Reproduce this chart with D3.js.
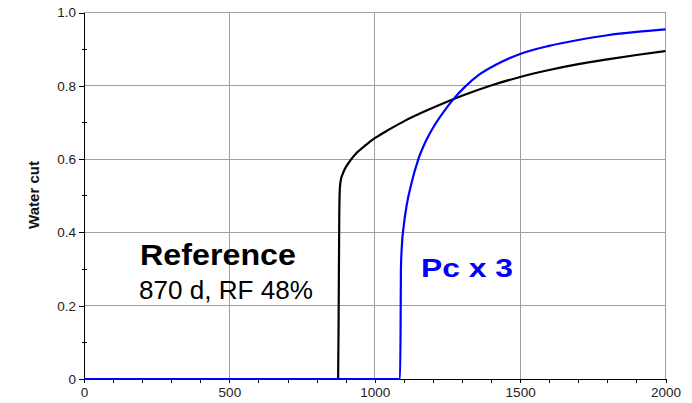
<!DOCTYPE html>
<html>
<head>
<meta charset="utf-8">
<script src="https://cdn.jsdelivr.net/npm/d3@7"></script>
<style>
  html, body { margin: 0; padding: 0; background: #fff; }
  svg { display: block; font-family: "Liberation Sans", Arial, sans-serif; }
</style>
</head>
<body>
<svg id="chart" width="692" height="403"></svg>
<script>
// Water cut vs time (days) for the base case and the capillary-pressure x3 case
const referenceDays = [0, 874, 876, 878, 880, 884, 890, 897, 915, 938, 970, 1000, 1050, 1100, 1200, 1300, 1400, 1500, 1600, 1700, 1800, 1900, 2000];
const referenceWaterCut = [0, 0, 0.20, 0.45, 0.52, 0.546, 0.560, 0.573, 0.595, 0.617, 0.639, 0.657, 0.681, 0.703, 0.740, 0.773, 0.801, 0.824, 0.843, 0.859, 0.872, 0.884, 0.895];

const pcDays = [0, 1087, 1089, 1090, 1093, 1100, 1110, 1125, 1150, 1175, 1200, 1235, 1270, 1310, 1360, 1420, 1500, 1600, 1700, 1800, 1900, 2000];
const pcWaterCut = [0, 0, 0.15, 0.30, 0.36, 0.42, 0.475, 0.530, 0.600, 0.648, 0.685, 0.727, 0.763, 0.797, 0.831, 0.859, 0.887, 0.909, 0.925, 0.938, 0.947, 0.954];

const xMajorTicks = [0, 500, 1000, 1500, 2000];
const xTickLabels = ["0", "500", "1000", "1500", "2000"];
const yMajorTicks = [0, 0.2, 0.4, 0.6, 0.8, 1.0];
const yTickLabels = ["0", "0.2", "0.4", "0.6", "0.8", "1.0"];
const yAxisTitle = "Water cut";
const annotations = {
  refTitle: "Reference",
  refNote: "870 d, RF 48%",
  pcTitle: "Pc x 3"
};

const svg = d3.select("#chart");
const x = d3.scaleLinear().domain([0, 2000]).range([84, 665.5]);
const y = d3.scaleLinear().domain([0, 1]).range([379, 12.5]);

// grid
const grid = svg.append("g").attr("stroke", "#a0a0a0").attr("stroke-width", 1).attr("shape-rendering", "crispEdges");
xMajorTicks.filter(d => d > 0).forEach(d => {
  grid.append("line").attr("x1", x(d)).attr("x2", x(d)).attr("y1", y(0)).attr("y2", y(1));
});
yMajorTicks.filter(d => d > 0).forEach(d => {
  grid.append("line").attr("x1", x(0)).attr("x2", x(2000)).attr("y1", y(d)).attr("y2", y(d));
});

// x axis: minor ticks every 100 d, labels on the majors
const xAxis = d3.axisBottom(x)
  .tickValues(d3.range(0, 2001, 100))
  .tickSize(4)
  .tickFormat(d => {
    const i = xMajorTicks.indexOf(d);
    return i >= 0 ? xTickLabels[i] : "";
  });
const gx = svg.append("g").attr("transform", `translate(0,${y(0)})`).call(xAxis);
gx.select(".domain").attr("stroke", "#000").attr("shape-rendering", "crispEdges");
gx.selectAll(".tick line").attr("stroke", "#000").attr("shape-rendering", "crispEdges");
gx.selectAll(".tick text").attr("font-size", 13.5).attr("fill", "#222").attr("y", 8).attr("font-family", "Liberation Sans, Arial, sans-serif");

// y axis: majors with labels, minors crossing the axis
const yAxis = d3.axisLeft(y)
  .tickValues(yMajorTicks)
  .tickSize(5)
  .tickSizeOuter(0)
  .tickFormat((d, i) => yTickLabels[i]);
const gy = svg.append("g").attr("transform", `translate(${x(0)},0)`).call(yAxis);
gy.select(".domain").attr("stroke", "#000").attr("shape-rendering", "crispEdges");
gy.selectAll(".tick line").attr("stroke", "#000").attr("shape-rendering", "crispEdges");
gy.selectAll(".tick text").attr("font-size", 13.5).attr("fill", "#222").attr("x", -8).attr("font-family", "Liberation Sans, Arial, sans-serif");

const minor = svg.append("g").attr("stroke", "#000").attr("shape-rendering", "crispEdges");
[0.1, 0.3, 0.5, 0.7, 0.9].forEach(d => {
  minor.append("line").attr("x1", x(0) - 2).attr("x2", x(0) + 3).attr("y1", y(d)).attr("y2", y(d));
});

svg.append("text")
  .attr("transform", `translate(38.5,195) rotate(-90)`)
  .attr("text-anchor", "middle")
  .attr("font-size", 15)
  .attr("font-weight", "bold")
  .attr("fill", "#111")
  .text(yAxisTitle);

// series
const line = d3.line().x(d => x(d[0])).y(d => y(d[1])).curve(d3.curveMonotoneX);
const refData = d3.zip(referenceDays, referenceWaterCut);
const pcData = d3.zip(pcDays, pcWaterCut);

svg.append("path").datum(refData)
  .attr("d", line).attr("fill", "none").attr("stroke", "#000").attr("stroke-width", 2.2);
svg.append("path").datum(pcData)
  .attr("d", line).attr("fill", "none").attr("stroke", "#0000ff").attr("stroke-width", 2.2);

// annotations
svg.append("text").attr("x", 140).attr("y", 265)
  .attr("font-size", 30).attr("font-weight", "bold").attr("fill", "#000")
  .attr("textLength", 156).attr("lengthAdjust", "spacingAndGlyphs")
  .text(annotations.refTitle);
svg.append("text").attr("x", 139).attr("y", 298.5)
  .attr("font-size", 25).attr("fill", "#000")
  .attr("textLength", 174).attr("lengthAdjust", "spacingAndGlyphs")
  .text(annotations.refNote);
svg.append("text").attr("x", 421).attr("y", 277)
  .attr("font-size", 26).attr("font-weight", "bold").attr("fill", "#0000ff")
  .attr("textLength", 92).attr("lengthAdjust", "spacingAndGlyphs")
  .text(annotations.pcTitle);
</script>
</body>
</html>
